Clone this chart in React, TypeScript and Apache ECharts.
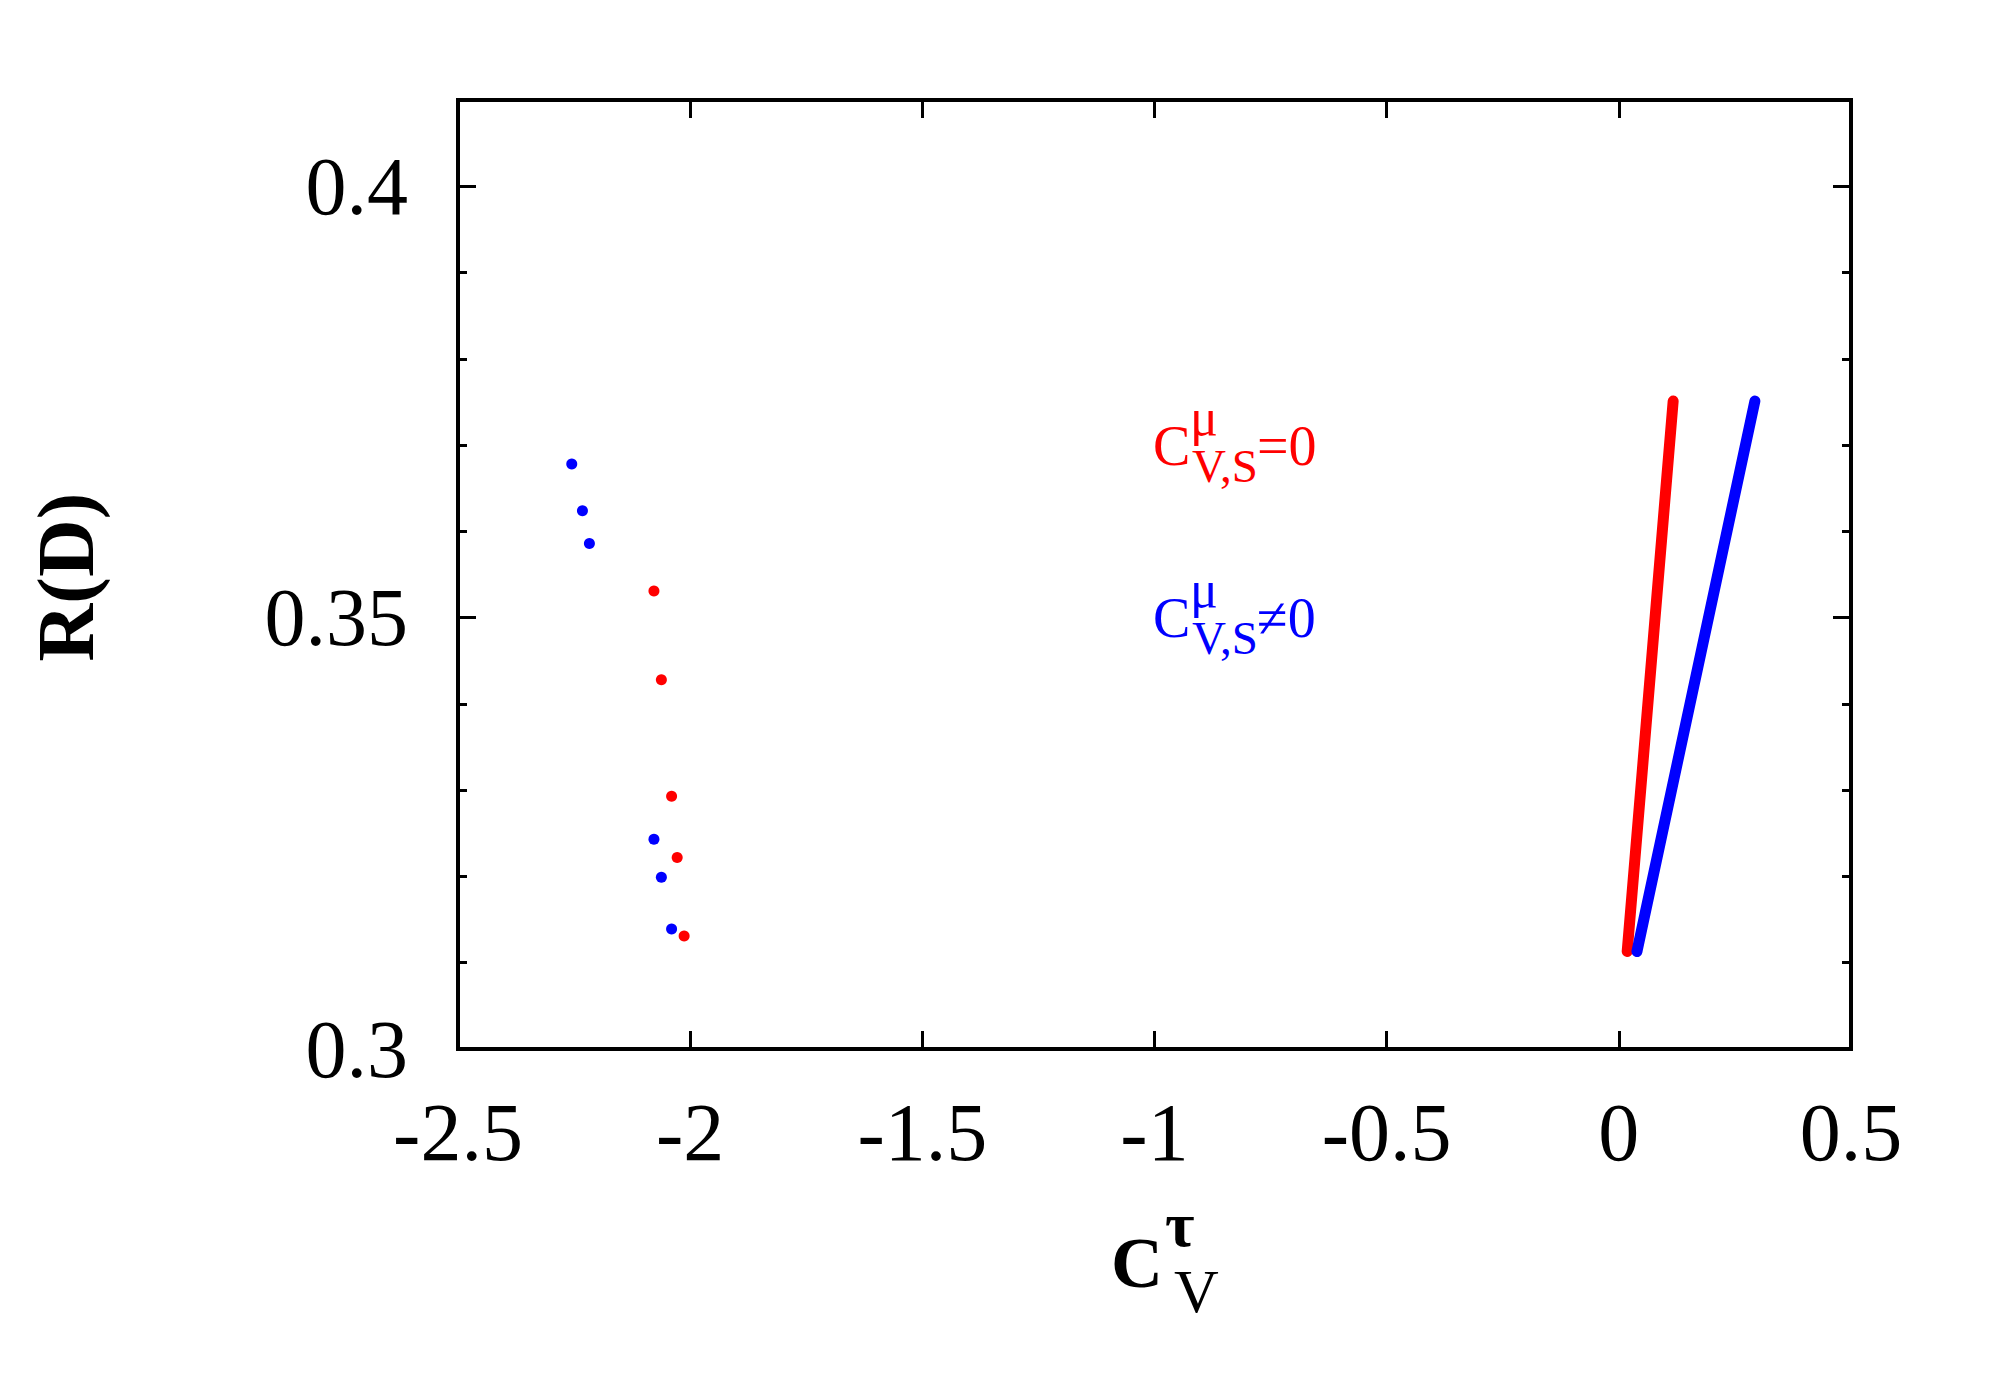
import React, { useEffect, useRef } from "react";
import * as echarts from "echarts";

// ---- data ----
const X_TICKS = [-2.5, -2, -1.5, -1, -0.5, 0, 0.5];
const Y_TICK_VALUES = [0.3, 0.35, 0.4];
const Y_TICK_LABELS = ["0.3", "0.35", "0.4"];

const blueDotsX = [-2.255, -2.232, -2.217, -2.078, -2.062, -2.04];
const blueDotsY = [0.3678, 0.3624, 0.3586, 0.3243, 0.3199, 0.3139];
const redDotsX = [-2.078, -2.062, -2.04, -2.028, -2.013];
const redDotsY = [0.3531, 0.3428, 0.3293, 0.3222, 0.3131];

const redLineX = [0.018, 0.117];
const redLineY = [0.3113, 0.3751];
const blueLineX = [0.039, 0.293];
const blueLineY = [0.3113, 0.3751];

const RED = "#ff0000";
const BLUE = "#0000ff";
const SERIF = "'Liberation Serif', 'Times New Roman', serif";

const zip = (xs: number[], ys: number[]) => xs.map((x, i) => [x, ys[i]]);

function txt(text: string, x: number, baseline: number, size: number, color: string, bold = false) {
  return {
    type: "text",
    x,
    y: baseline - 0.3375 * size,
    silent: true,
    style: {
      text,
      fill: color,
      fontFamily: SERIF,
      fontSize: size,
      fontWeight: bold ? "bold" : "normal",
      align: "left",
      verticalAlign: "middle",
    },
  };
}

export default function App() {
  const ref = useRef<HTMLDivElement>(null);
  useEffect(() => {
    if (!ref.current) return;
    const chart = echarts.init(ref.current, null, { renderer: "svg" });
    const tickCommon = { show: true, inside: true, lineStyle: { color: "#000", width: 3 } };
    const labelFont = { fontFamily: SERIF, fontSize: 82, color: "#000" };
    const noLine = { show: false, onZero: false };
    const xBase = {
      type: "value",
      min: -2.5,
      max: 0.5,
      interval: 0.5,
      axisLine: noLine,
      splitLine: { show: false },
    };
    const yMajor = {
      type: "value",
      min: 0.3,
      max: 0.41,
      interval: 0.05,
      axisLine: noLine,
      splitLine: { show: false },
    };
    const yMinor = {
      type: "value",
      min: 0.3,
      max: 0.41,
      interval: 0.01,
      axisLine: noLine,
      splitLine: { show: false },
      axisLabel: { show: false },
      axisTick: { ...tickCommon, length: 9 },
    };
    const option: any = {
      animation: false,
      backgroundColor: "#ffffff",
      grid: {
        left: 458,
        top: 100,
        right: 149,
        bottom: 351,
        show: true,
        borderColor: "#000",
        borderWidth: 4,
        backgroundColor: "transparent",
      },
      xAxis: [
        {
          ...xBase,
          position: "bottom",
          axisTick: { ...tickCommon, length: 18 },
          axisLabel: {
            ...labelFont,
            margin: 42,
            formatter: (v: number) => {
              const i = X_TICKS.findIndex((t) => Math.abs(t - v) < 1e-6);
              return i >= 0 ? String(X_TICKS[i]) : "";
            },
          },
        },
        {
          ...xBase,
          position: "top",
          axisTick: { ...tickCommon, length: 18 },
          axisLabel: { show: false },
        },
      ],
      yAxis: [
        {
          ...yMajor,
          position: "left",
          axisTick: { ...tickCommon, length: 18 },
          axisLabel: {
            ...labelFont,
            margin: 50,
            formatter: (v: number) => {
              const i = Y_TICK_VALUES.findIndex((t) => Math.abs(t - v) < 1e-6);
              return i >= 0 ? Y_TICK_LABELS[i] : "";
            },
          },
        },
        { ...yMinor, position: "left" },
        {
          ...yMajor,
          position: "right",
          axisTick: { ...tickCommon, length: 18 },
          axisLabel: { show: false },
        },
        { ...yMinor, position: "right" },
      ],
      series: [
        {
          type: "line",
          data: zip(redLineX, redLineY),
          symbol: "none",
          lineStyle: { color: RED, width: 11, cap: "round", join: "round" },
          z: 3,
        },
        {
          type: "line",
          data: zip(blueLineX, blueLineY),
          symbol: "none",
          lineStyle: { color: BLUE, width: 11, cap: "round", join: "round" },
          z: 3,
        },
        {
          type: "scatter",
          data: zip(blueDotsX, blueDotsY),
          symbol: "circle",
          symbolSize: 11,
          itemStyle: { color: BLUE, opacity: 1 },
        },
        {
          type: "scatter",
          data: zip(redDotsX, redDotsY),
          symbol: "circle",
          symbolSize: 11,
          itemStyle: { color: RED, opacity: 1 },
        },
      ],
      graphic: [
        // y axis title
        {
          type: "text",
          x: 66,
          y: 577,
          rotation: Math.PI / 2,
          silent: true,
          style: {
            text: "R(D)",
            fill: "#000",
            fontFamily: SERIF,
            fontSize: 80,
            fontWeight: "bold",
            align: "center",
            verticalAlign: "middle",
          },
        },
        // x axis title C^tau_V
        txt("C", 1111, 1287, 72, "#000", true),
        txt("τ", 1165, 1246, 64, "#000", true),
        txt("V", 1174, 1312, 62, "#000"),
        // red annotation
        txt("C", 1153, 465, 56, RED),
        txt("μ", 1190, 435, 52, RED),
        txt("V,S", 1192, 482, 47, RED),
        txt("=0", 1257, 465, 56, RED),
        // blue annotation
        txt("C", 1153, 637, 56, BLUE),
        txt("μ", 1190, 607, 52, BLUE),
        txt("V,S", 1192, 654, 47, BLUE),
        txt("≠0", 1257, 637, 56, BLUE),
      ],
    };
    chart.setOption(option);
    return () => chart.dispose();
  }, []);
  return (
    <div
      ref={ref}
      style={{ position: "absolute", left: 0, top: 0, width: 2000, height: 1400, background: "#fff" }}
    />
  );
}
